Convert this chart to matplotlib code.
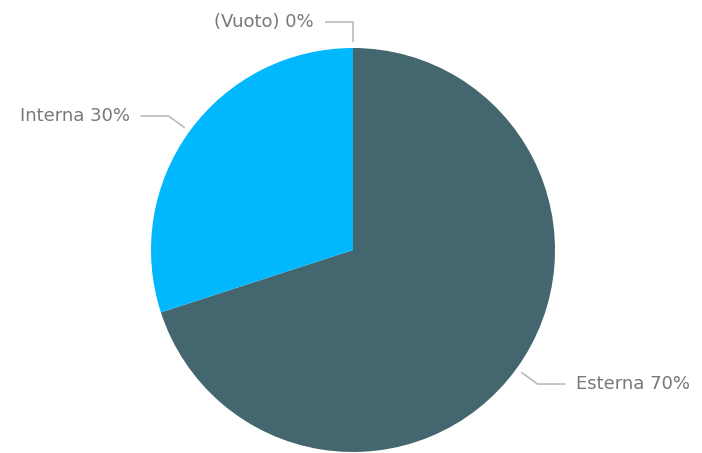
import numpy as np
import matplotlib
matplotlib.use("Agg")
import matplotlib.pyplot as plt

categories = ["Esterna", "Interna", "(Vuoto)"]
values = [70, 30, 0]
colors = ["#44666f", "#01b8ff", "#cccccc"]

W, H = 702, 453
cx, cy, R = 353, H - 250, 202

fig = plt.figure(figsize=(W / 100, H / 100), dpi=100)
ax = fig.add_axes([0, 0, 1, 1])

ax.pie(values, colors=colors, startangle=90, counterclock=False,
       center=(cx, cy), radius=R, wedgeprops=dict(linewidth=0))
ax.set_xlim(0, W)
ax.set_ylim(0, H)
ax.set_aspect("equal")
ax.axis("off")

total = sum(values)
start = 90.0
for name, v in zip(categories, values):
    span = 360.0 * v / total
    mid = np.radians(start - span / 2)
    start -= span
    # leader line: short radial piece then horizontal
    x0, y0 = cx + (R + 6) * np.cos(mid), cy + (R + 6) * np.sin(mid)
    x1, y1 = cx + (R + 26) * np.cos(mid), cy + (R + 26) * np.sin(mid)
    side = 1 if np.cos(mid) > 0.01 else -1
    x2 = x1 + side * 28
    ax.plot([x0, x1, x2], [y0, y1, y1], color="#bbbbbb", lw=1.2,
            solid_capstyle="butt")
    pct = f"{name} {round(100 * v / total)}%"
    ax.text(x2 + side * 11, y1, pct, ha="left" if side > 0 else "right",
            va="center", fontsize=13, color="#787878")

fig.savefig("out.png", dpi=100)
